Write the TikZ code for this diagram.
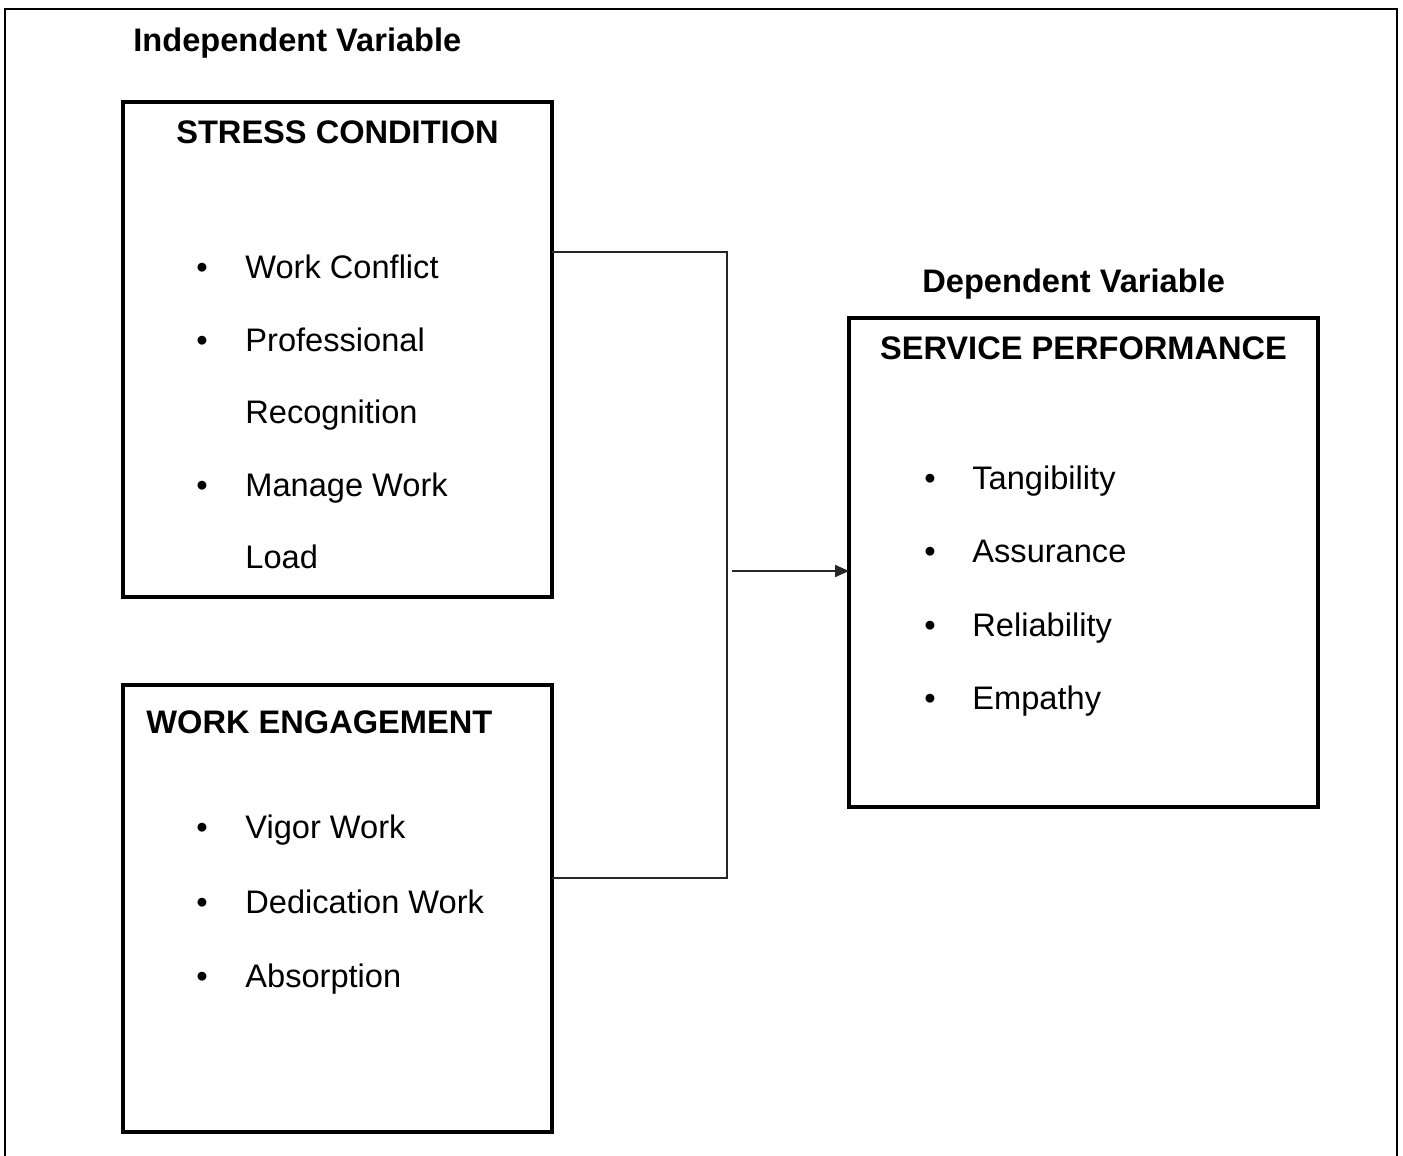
\documentclass[tikz,border=0pt]{standalone}
\usepackage{fontspec}
\setmainfont{Liberation Sans}
\usetikzlibrary{arrows.meta}

\tikzset{
  box/.style={draw, line width=2pt, anchor=north west, inner sep=0pt, outer sep=0pt},
  head/.style={font=\bfseries\fontsize{16.3}{19}\selectfont, inner sep=0pt},
  item/.style={font=\fontsize{16.3}{19}\selectfont, inner sep=0pt, anchor=base west},
  dot/.style={font=\fontsize{16.3}{19}\selectfont, inner sep=0pt, anchor=base},
  link/.style={line width=1pt, black!85}
}

\begin{document}
\begin{tikzpicture}[x=0.5pt, y=-0.5pt]
                \useasboundingbox (0,0) rectangle (1403,1156);
                \draw[line width=1pt] (5,1156) -- (5,9) -- (1397,9) -- (1397,1156);

                \node[head, anchor=base west] (indep) at (133,52) {Independent Variable};
                \node[box, minimum width=214.5pt, minimum height=247.5pt] (stress) at (123,102) {};
                \node[head, anchor=base] (stresstitle) at (337.5,143) {STRESS CONDITION};
                \node[dot] (sb1) at (202,278) {\textbullet};
                \node[item] (si1) at (245,278) {Work Conflict};
                \node[dot] (sb2) at (202,351) {\textbullet};
                \node[item] (si2) at (245,351) {Professional};
                \node[item] (si2b) at (245,423) {Recognition};
                \node[dot] (sb3) at (202,496) {\textbullet};
                \node[item] (si3) at (245,496) {Manage Work};
                \node[item] (si3b) at (245,568) {Load};

                \node[box, minimum width=214.5pt, minimum height=223.5pt] (engage) at (123,685) {};
                \node[head, anchor=base west] (engagetitle) at (146,733) {WORK ENGAGEMENT};
                \node[dot] (eb1) at (202,838) {\textbullet};
                \node[item] (ei1) at (245,838) {Vigor Work};
                \node[dot] (eb2) at (202,913) {\textbullet};
                \node[item] (ei2) at (245,913) {Dedication Work};
                \node[dot] (eb3) at (202,987) {\textbullet};
                \node[item] (ei3) at (245,987) {Absorption};

                \node[head, anchor=base west] (dep) at (922,292) {Dependent Variable};
                \node[box, minimum width=234.5pt, minimum height=244.5pt] (service) at (849,318) {};
                \node[head, anchor=base] (servicetitle) at (1083.5,359) {SERVICE PERFORMANCE};
                \node[dot] (pb1) at (930,489) {\textbullet};
                \node[item] (pi1) at (972,489) {Tangibility};
                \node[dot] (pb2) at (930,562) {\textbullet};
                \node[item] (pi2) at (972,562) {Assurance};
                \node[dot] (pb3) at (930,636) {\textbullet};
                \node[item] (pi3) at (972,636) {Reliability};
                \node[dot] (pb4) at (930,709) {\textbullet};
                \node[item] (pi4) at (972,709) {Empathy};

                \coordinate (jtop) at (727,252);
                \coordinate (jbot) at (727,878);
                \coordinate (jout) at (732,571);
                \draw[link] (jtop -| stress.east) -- (jtop) -- (jbot) -- (jbot -| engage.east);
                \draw[link, -{Triangle[length=7pt, width=6pt]}] (jout) -- (jout -| service.west);
            \end{tikzpicture}
\end{document}
